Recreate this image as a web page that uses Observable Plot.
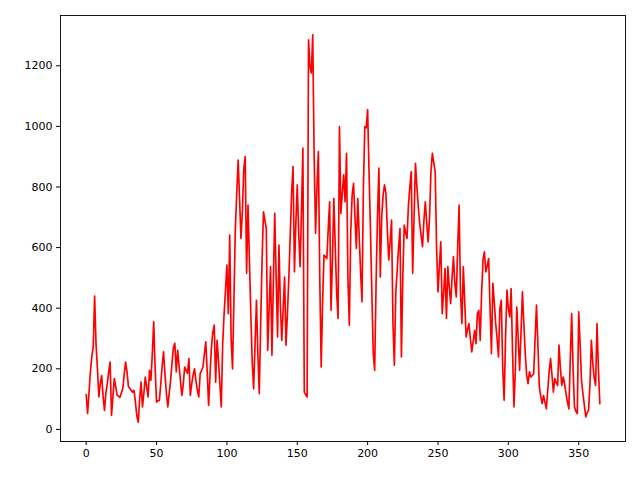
<!DOCTYPE html>
<html>
<head>
<meta charset="utf-8">
<script src="https://cdn.jsdelivr.net/npm/d3@7"></script>
<script src="https://cdn.jsdelivr.net/npm/@observablehq/plot@0.6"></script>
<style>
  html, body { margin: 0; padding: 0; background: #fff; }
  #chart { width: 640px; height: 480px; }
</style>
</head>
<body>
<div id="chart"></div>
<script>
// Daily values, index 0..365
const values = [
  115, 53, 120, 190, 240, 272, 440, 280, 200, 107,
  150, 178, 110, 63, 120, 150, 190, 222, 46, 110,
  168, 140, 112, 110, 106, 120, 135, 180, 222, 190,
  142, 135, 128, 123, 129, 90, 45, 24, 100, 156,
  74, 120, 173, 140, 107, 195, 162, 250, 355, 200,
  90, 95, 96, 150, 210, 256, 180, 120, 74, 120,
  162, 220, 270, 284, 190, 261, 210, 160, 112, 150,
  206, 195, 185, 234, 112, 150, 180, 200, 160, 130,
  107, 184, 195, 206, 250, 289, 190, 79, 180, 272,
  320, 344, 156, 294, 228, 150, 74, 283, 380, 460,
  542, 382, 641, 300, 200, 430, 664, 780, 889, 760,
  630, 720, 860, 900, 515, 740, 560, 380, 220, 134,
  280, 426, 250, 118, 350, 560, 718, 690, 663, 261,
  400, 537, 245, 480, 713, 500, 305, 608, 410, 294,
  400, 503, 278, 380, 499, 640, 780, 867, 520, 680,
  807, 650, 537, 720, 928, 123, 115, 107, 1286, 1200,
  1176, 1302, 900, 647, 800, 917, 500, 206, 420, 575,
  570, 564, 660, 751, 393, 560, 762, 600, 450, 366,
  999, 713, 780, 840, 751, 911, 500, 344, 650, 774,
  812, 700, 597, 762, 640, 520, 421, 800, 999, 995,
  1055, 850, 663, 450, 250, 195, 480, 700, 862, 503,
  700, 774, 807, 779, 660, 559, 620, 691, 350, 212,
  450, 526, 600, 663, 239, 500, 674, 650, 630, 740,
  800, 851, 515, 700, 878, 800, 735, 680, 640, 603,
  690, 751, 680, 619, 700, 851, 911, 880, 851, 600,
  454, 540, 619, 382, 450, 531, 366, 537, 470, 415,
  500, 570, 480, 437, 600, 740, 450, 349, 537, 420,
  305, 330, 349, 300, 256, 290, 327, 283, 382, 393,
  294, 450, 560, 586, 520, 540, 564, 400, 250, 482,
  420, 349, 300, 239, 400, 426, 200, 96, 300, 460,
  400, 371, 465, 250, 74, 200, 404, 300, 195, 320,
  454, 350, 250, 180, 151, 190, 173, 178, 184, 300,
  410, 280, 140, 110, 85, 112, 90, 68, 130, 190,
  234, 180, 123, 168, 155, 145, 278, 200, 145, 173,
  150, 118, 90, 68, 230, 382, 200, 74, 60, 52,
  388, 280, 160, 118, 80, 41, 55, 63, 150, 294,
  220, 170, 145, 349, 200, 85
];
const xTicks = [0, 50, 100, 150, 200, 250, 300, 350];
const yTicks = [0, 200, 400, 600, 800, 1000, 1200];

const data = values.map((v, i) => ({day: i, value: v}));

const xMin = 0, xMax = values.length - 1;
const xPad = (xMax - xMin) * 0.05;
const yMin = d3.min(values), yMax = d3.max(values);
const yPad = (yMax - yMin) * 0.05;

const chart = Plot.plot({
  width: 640,
  height: 480,
  marginLeft: 60,
  marginRight: 15,
  marginTop: 15,
  marginBottom: 39,
  style: {fontFamily: "DejaVu Sans", fontSize: "11px", color: "#000", background: "#fff"},
  x: {domain: [xMin - xPad, xMax + xPad], ticks: xTicks, tickFormat: d => String(d), label: null},
  y: {domain: [yMin - yPad, yMax + yPad], ticks: yTicks, tickFormat: d => String(d), label: null},
  marks: [
    Plot.axisX({ticks: xTicks, tickSize: 4, tickPadding: 4, fontSize: 11, label: null, tickFormat: d => String(d)}),
    Plot.axisY({ticks: yTicks, tickSize: 4, tickPadding: 4, fontSize: 11, label: null, tickFormat: d => String(d)}),
    Plot.lineY(data, {x: "day", y: "value", stroke: "#ff0000", strokeWidth: 1.67}),
    Plot.frame({stroke: "#000", strokeWidth: 0.9})
  ]
});
document.getElementById("chart").appendChild(chart);
</script>
</body>
</html>
